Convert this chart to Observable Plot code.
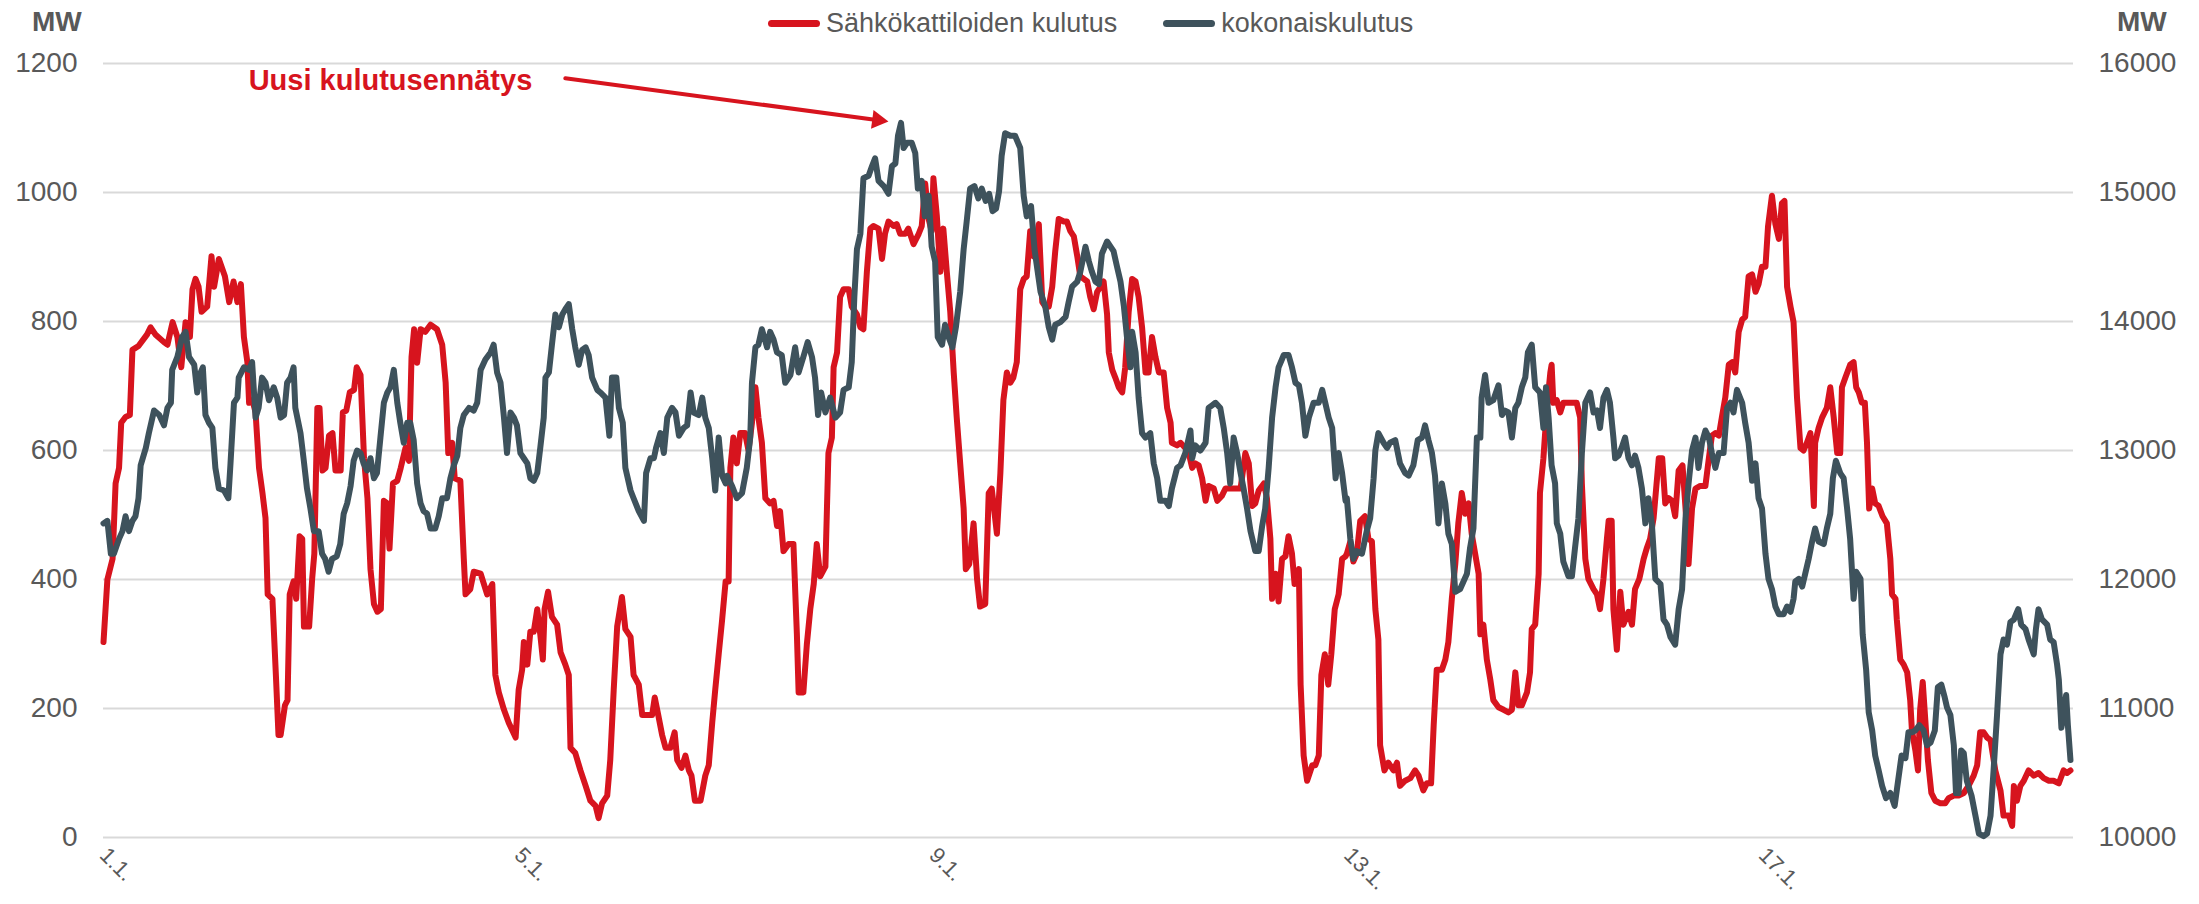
<!DOCTYPE html>
<html>
<head>
<meta charset="utf-8">
<script src="https://cdn.jsdelivr.net/npm/d3@7"></script>
<script src="https://cdn.jsdelivr.net/npm/@observablehq/plot@0.6"></script>
<style>
  html, body { margin: 0; padding: 0; background: #ffffff; }
  #wrap { position: relative; width: 2199px; height: 904px; font-family: "Liberation Sans", Arial, sans-serif; }
  .unit { position: absolute; top: 8px; font-size: 28px; font-weight: bold; line-height: 1; color: #595959; }
  #legend { position: absolute; top: 10px; left: 768px; display: flex; align-items: center; font-size: 27px; line-height: 1; color: #595959; }
  .item { display: flex; align-items: center; margin-right: 46px; }
  .swatch { width: 52px; height: 7px; border-radius: 3.5px; margin-right: 6px; }
  #chart { position: absolute; left: 0; top: 0; }
</style>
</head>
<body>
<div id="wrap">
  <div class="unit" style="left:32px">MW</div>
  <div class="unit" style="left:2117px">MW</div>
  <div id="legend"></div>
  <div id="chart"></div>
</div>
<script>
// ---- data (hours since 1.1. 00:00, MW) ----
const seriesNames = ["Sähkökattiloiden kulutus", "kokonaiskulutus"];
const seriesColors = ["#d7141e", "#3e525c"];
const leftTicks = [0, 200, 400, 600, 800, 1000, 1200];
const rightTicks = [10000, 11000, 12000, 13000, 14000, 15000, 16000];
const dateTicks = ["1.1.", "5.1.", "9.1.", "13.1.", "17.1."];
const annotationText = "Uusi kulutusennätys";

// Sähkökattiloiden kulutus, MW (left axis)
const boilerMW = [
[0,303],[0.9,400],[2.1,432],[2.8,549],[3.6,573],[4.1,643],[5.1,652],[6.1,655],[6.7,756],[8.1,762],[10.1,780],[10.9,791],[12,780],[14,768],[14.8,764],[16,799],[17.1,776],[18,729],[19,799],[20,776],[20.6,850],[21.3,866],[22,854],[22.7,815],[24,823],[25,901],[25.6,854],[26.7,897],[28.1,870],[29.1,830],[30.1,862],[31,830],[31.8,858],[32.5,776],[33.3,737],[33.7,674],[34.5,678],[35.2,659],[36,573],[36.8,534],[37.5,495],[38,377],[39.1,370],[39.9,252],[40.5,159],[41,159],[42,205],[42.6,213],[43.1,377],[44,397],[44.6,370],[45.4,467],[46,463],[46.4,327],[47.6,327],[48.3,401],[48.8,440],[49.5,666],[50,666],[50.7,569],[51.4,573],[52.2,623],[53,627],[53.7,569],[54.9,569],[55.4,659],[56.2,662],[57,690],[58,694],[58.6,729],[59.5,717],[60.3,588],[61.1,526],[61.8,416],[62.6,362],[63.4,350],[64.2,354],[64.9,522],[65.7,518],[66.2,448],[67,549],[68,553],[68.8,573],[69.9,604],[70.7,584],[71.3,745],[71.9,788],
[72.6,736],[73.4,788],[74.5,784],[75.7,795],[77.2,788],[78.4,764],[79.2,705],[79.8,596],[80.7,612],[81.3,557],[82.6,553],[83.4,432],[83.8,377],[84.9,385],[85.7,412],[87.3,409],[88.8,377],[90,393],[90.7,252],[91.5,225],[92.7,198],[93.8,178],[95.4,155],[96.1,229],[96.9,260],[97.3,303],[98.1,268],[98.8,319],[99.6,319],[100.4,354],[101.1,315],[101.7,276],[102.1,354],[102.9,381],[103.8,342],[105,330],[105.8,287],[106.9,268],[107.7,252],[108.1,139],[109.2,131],[110.4,104],[111.6,80],[112.7,57],[113.9,49],[114.6,30],[115.4,53],[116.6,65],[117.3,120],[118.1,229],[118.9,327],[120,373],[120.8,323],[122,311],[122.7,252],[123.9,237],[124.7,190],[125.8,190],[127,190],[127.6,217],[128.4,190],[129.3,159],[130.1,139],[131.2,139],[132.2,163],[132.8,120],[133.8,108],[134.7,127],[135.5,104],[136.1,96],[136.9,57],[138.2,57],[139.3,96],[140.1,112],[140.9,178],[141.6,229],[142.4,284],[143.2,338],[144,397],
[144.7,397],[145.1,573],[145.8,620],[146.6,580],[147.4,627],[148.5,627],[149.3,600],[150.1,643],[150.9,698],[151.6,651],[152.4,612],[153.2,526],[154.3,518],[155.1,522],[155.9,483],[156.6,506],[157.4,444],[158.6,455],[159.7,455],[160.5,315],[160.9,225],[162,225],[162.8,299],[163.6,354],[164.4,393],[165.1,455],[165.9,405],[167.1,420],[167.8,596],[168.6,620],[169,729],[169.8,752],[170.5,838],[171.3,850],[172.5,850],[173.2,823],[174.4,811],[175.2,791],[175.9,788],[176.7,877],[177.5,944],[178.2,948],[179.4,944],[180.2,897],[180.9,936],[181.7,955],[182.9,948],[183.6,951],[184.4,936],[185.6,936],[186.3,944],[187.5,920],[188.7,936],[189.4,948],[190.2,1014],[191,959],[191.7,940],[192.1,1022],[192.9,963],[193.7,877],[194.4,944],[195.2,877],[196,815],[196.8,721],[197.5,651],[198.3,580],[199.1,510],[199.6,416],[200.4,424],[201.4,487],[202.2,401],[202.9,358],[204.1,362],[204.9,534],[205.6,541],[206.8,471],[207.6,565],[208.3,678],[209.1,721],[209.9,705],[210.6,713],[211.4,737],[212.2,850],[213,866],[213.7,870],[214.5,940],[215.3,901],
[216.5,951],[217.3,830],[218,823],[218.8,823],[219.6,854],[220.3,909],[221.1,959],[222.3,955],[223,955],[223.8,940],[224.6,932],[225.4,901],[226.1,870],[226.9,866],[227.7,862],[228.4,838],[229.2,819],[230,846],[230.8,854],[231.5,862],[232.3,811],[232.7,752],[233.5,725],[234.2,713],[235,698],[235.8,690],[236.5,729],[237.3,815],[238.1,866],[238.9,862],[239.6,838],[240.4,791],[241.2,721],[241.9,721],[242.7,776],[243.5,745],[244.3,721],[245.4,721],[246.2,666],[247,643],[247.3,612],[248.5,608],[249.3,612],[250.4,604],[251.2,596],[252,573],[252.7,580],[253.5,577],[254.3,557],[255.1,522],[255.8,545],[257,541],[257.8,522],[258.9,530],[259.7,541],[260.9,541],[262,541],[263.2,541],[264.3,596],[265.1,580],[265.9,514],[266.6,518],[267.4,538],[268.6,549],[269.3,526],[270.1,463],[270.5,370],[271.3,409],[272,366],[272.8,432],[273.6,436],[274.3,467],[275.1,440],[275.7,393],[276.7,416],[277.1,237],[277.8,127],[278.6,88],[279.8,112],[280.5,112],[281.3,127],[281.9,252],[282.7,284],[283.5,237],[284.2,284],[285,354],[285.9,377],[286.7,432],[287.5,436],
[287.8,440],[288.6,459],[289.3,428],[290.1,440],[290.9,491],[292,498],[292.8,463],[293.6,459],[294.4,354],[295.1,307],[295.5,143],[296.5,104],[297.4,116],[298.6,104],[299.4,116],[300.1,80],[301.3,88],[302.5,92],[303.6,104],[304.4,96],[305.5,73],[306.3,84],[307.3,84],[307.9,174],[308.6,260],[309.8,260],[310.6,276],[311.3,303],[312.1,370],[312.9,424],[313.6,487],[314.4,534],[315.2,502],[316,518],[316.7,471],[317.5,440],[318.3,409],[318.7,315],[319.4,330],[320.2,276],[321,245],[321.7,213],[322.9,202],[324.1,198],[325.2,194],[326,198],[326.8,256],[327.5,205],[328.3,205],[329.5,225],[330.2,256],[330.6,323],[331.4,330],[332.2,409],[332.5,534],[333.3,588],[334.1,666],[334.9,721],[335.2,733],[335.6,674],[336.4,678],[337.2,659],[337.9,674],[339.1,674],[340.3,674],[341,674],[341.8,651],[342.2,549],[343,432],[343.7,401],[344.9,385],[345.7,377],[346.4,354],[347.2,401],[348,463],[348.4,491],[349.1,491],[349.5,354],[350.3,291],[351.1,381],[351.8,330],[353,350],[353.8,330],[354.5,385],[355.5,401],[356.5,432],[357.2,448],[358,463],[358.8,495],
[360,588],[360.8,588],[361.5,518],[362.3,526],[363.1,522],[363.8,498],[364.6,569],[365.5,577],[366.2,510],[366.9,424],[367.7,510],[368.5,541],[369.6,545],[370.8,545],[371.6,588],[372.3,623],[373.1,627],[373.9,623],[374.6,651],[375.4,682],[376.2,733],[377,737],[377.7,721],[378.5,784],[379.3,803],[380,807],[380.8,870],[381.6,873],[382.4,846],[383.1,858],[383.9,885],[384.7,885],[385.3,948],[386.2,995],[387,951],[387.8,928],[388.5,983],[389.1,987],[389.7,854],[390.5,823],[391.2,799],[392,682],[392.8,604],[393.5,600],[394.3,612],[395.1,627],[395.9,514],[396.2,612],[397,635],[397.8,651],[398.9,666],[399.7,698],[400.5,651],[401.3,596],[402,596],[402.4,698],[403.2,713],[404.3,733],[405.1,737],[405.7,698],[406.3,690],[407,674],[407.7,674],[408.2,612],[408.7,510],[409.4,541],[410.1,518],[410.9,514],[411.8,498],[412.8,487],[413.6,432],[414,377],[414.8,370],[415.1,338],[415.9,276],[416.7,268],[417.5,256],[418.2,213],[418.6,166],[419.4,135],[420,104],[420.5,198],[421.1,241],[421.7,182],[422.3,120],[423.1,69],[424,57],[425.2,53],[426.3,53],[427.1,61],[428.3,65],[429.4,65],[430.6,69],[431.7,80],[432.9,96],[433.7,112],[434.4,163],[435.2,163],[436,155],[436.8,151],[437.9,104],[439.1,73],[439.8,34],[441,34],[441.8,18],[442.2,80],[442.9,57],[443.7,80],[444.5,88],[445.6,104],[446.8,96],[447.9,100],[449.1,92],[450.3,88],[451.4,88],[452.6,84],[453.7,104],[454.5,100],[455.3,104]
];

// kokonaiskulutus, MW (right axis)
const totalMW = [
[0,12435],[0.9,12455],[1.7,12200],[2.4,12200],[3.6,12315],[4.4,12375],[5.1,12490],[5.9,12375],[6.7,12455],[7.4,12490],[8.1,12630],[8.6,12885],[9.8,13020],[10.5,13135],[11.7,13310],[12.9,13275],[14,13195],[14.8,13330],[15.6,13370],[15.9,13625],[17.1,13725],[18.2,13880],[19,13920],[19.8,13725],[21,13665],[21.7,13450],[22.5,13605],[23,13645],[23.6,13275],[24.4,13215],[25.2,13175],[25.9,12865],[26.7,12705],[27.9,12690],[28.9,12630],[29.4,12900],[30.2,13370],[31,13410],[31.3,13565],[32.5,13645],[33.7,13625],[34.4,13685],[35.2,13255],[35.9,13330],[36.7,13565],[37.5,13525],[38.3,13390],[39.4,13490],[40.2,13410],[41,13255],[41.8,13275],[42.5,13525],[43.3,13565],[44,13645],[44.4,13330],[45.6,13135],[46.3,12940],[47.1,12705],[47.9,12550],[48.7,12375],[49.8,12375],[50.6,12200],[51.3,12160],[52.1,12060],[52.9,12160],[54,12180],[54.8,12275],[55.6,12510],[56.4,12590],[57.2,12725],[57.9,12920],[58.7,13000],[59.5,12980],[60.2,12900],[61,12845],[61.8,12940],[62.6,12785],[63.3,12825],[64.1,13100],[64.9,13370],[65.7,13450],[66.4,13490],[67.2,13625],[68,13370],[68.7,13215],[69.5,13060],[70.3,13215],[71,13215],[71.8,13080],
[72.6,12745],[73.4,12590],[74.1,12530],[74.9,12510],[75.7,12395],[76.8,12395],[77.6,12490],[78.4,12630],[79.5,12630],[80.3,12785],[81.1,12885],[81.9,12960],[82.6,13175],[83.4,13275],[84.6,13330],[85.7,13310],[86.5,13370],[87.3,13625],[88.4,13705],[89.6,13760],[90.3,13820],[91.1,13605],[91.9,13525],[92.7,13255],[93.4,12980],[94.2,13295],[95,13255],[95.7,13195],[96.5,12980],[97.3,12940],[98.1,12900],[98.8,12785],[99.6,12765],[100.4,12825],[101.1,13020],[101.9,13255],[102.3,13565],[103.1,13605],[103.8,13820],[104.6,14055],[105.4,13955],[106.2,14055],[106.9,14095],[107.7,14135],[108.5,13940],[109.2,13800],[110,13665],[110.8,13780],[111.6,13800],[112.3,13740],[113.1,13565],[114.3,13470],[115,13450],[116.2,13410],[117.1,13115],[117.7,13565],[118.7,13565],[119.3,13330],[120.2,13215],[120.8,12865],[122,12690],[122.7,12630],[123.9,12530],[125.1,12455],[125.6,12825],[126.6,12940],[127.4,12940],[127.9,13020],[128.9,13135],[129.7,12980],[130.5,13255],[131.6,13330],[132.4,13295],[133.2,13115],[134.3,13175],[135.1,13195],[135.9,13450],[136.6,13295],[137.8,13275],[138.6,13410],[139.3,13255],[140.1,13175],[140.9,12940],[141.6,12690],[142.4,13100],[143.2,12805],[144,12745],
[144.3,12805],[145.5,12725],[146.6,12630],[147.8,12670],[148.9,12865],[149.7,13100],[150.1,13525],[150.9,13800],[151.6,13820],[152.4,13940],[153.6,13800],[154.3,13920],[155.1,13860],[155.9,13760],[157,13740],[157.8,13525],[159,13585],[160.1,13800],[160.9,13605],[162,13725],[163,13840],[164,13725],[164.7,13565],[165.4,13275],[166.1,13450],[167.1,13295],[168.2,13410],[169.4,13255],[170.5,13295],[171.3,13470],[172.5,13490],[173.2,13685],[173.8,14190],[174.4,14560],[175.2,14680],[175.9,15110],[177.1,15130],[177.9,15205],[178.6,15265],[179.4,15090],[180.6,15050],[181.7,14990],[182.5,15205],[183.3,15225],[183.9,15440],[184.6,15540],[185.2,15345],[186,15385],[187.1,15385],[187.9,15305],[188.5,15030],[189.4,15090],[190.1,14815],[191,14975],[191.7,14580],[192.5,14465],[193.1,13880],[194.1,13820],[194.8,13975],[195.6,13880],[196.5,13800],[197.3,13955],[198.3,14230],[199.1,14560],[199.8,14775],[200.6,15030],[201.6,15050],[202.5,14955],[203.3,15030],[204.2,14935],[205,14990],[205.8,14855],[206.6,14875],[207.3,15010],[207.9,15285],[208.7,15460],[209.9,15440],[211,15440],[212.2,15345],[213,14975],[213.7,14815],[214.7,14895],[215.5,14560],
[216.9,14230],[218,14115],[218.8,13955],[219.6,13860],[220.3,13975],[221.5,13995],[222.7,14035],[223.4,14150],[224.2,14270],[225.4,14310],[226.1,14385],[227.3,14580],[228.1,14465],[228.8,14385],[229.6,14310],[230.4,14290],[231.1,14525],[232.3,14620],[233.1,14580],[233.8,14545],[234.6,14425],[235.4,14310],[236.2,14115],[236.9,13880],[237.7,13645],[238.1,13920],[238.9,13760],[239.6,13410],[240.4,13135],[241.2,13100],[242.3,13135],[243.1,12900],[243.9,12785],[244.6,12610],[245.8,12610],[246.6,12570],[247.3,12705],[248.5,12865],[249.3,12885],[250.4,12980],[251.6,13155],[252,12940],[252.7,13040],[253.9,13000],[255.1,13060],[255.8,13330],[256.6,13350],[257.4,13370],[258.5,13330],[259.3,13175],[260.1,12980],[260.8,12745],[261.6,13100],[262.4,12980],[263.2,12825],[263.9,12705],[264.7,12550],[265.5,12375],[266.6,12220],[267.4,12220],[268.2,12415],[268.9,12550],[269.7,12865],[270.5,13255],[271.3,13490],[272,13645],[273.2,13740],[274.3,13740],[275.1,13645],[275.9,13525],[276.7,13505],[277.4,13370],[278.2,13115],[279,13255],[280.1,13370],[281.3,13370],[282.1,13470],[282.8,13370],[283.6,13255],[284.4,13175],[285.2,12785],[285.9,12980],[286.7,12825],[287.5,12610],
[287.8,12630],[288.6,12315],[289.3,12160],[290.1,12220],[291.3,12200],[292.4,12375],[293.2,12475],[294,12785],[294.4,13000],[295.1,13135],[296.3,13060],[297.1,13020],[297.8,13060],[299,13080],[300.1,12900],[301.3,12825],[302.1,12805],[303.2,12885],[304.2,13080],[305.2,13100],[305.9,13195],[306.7,13080],[307.5,12980],[308.2,12805],[309,12435],[309.8,12745],[310.6,12590],[311.3,12355],[312.1,12275],[312.9,11905],[314,11925],[314.8,11985],[315.6,12045],[316.3,12240],[317.1,12395],[317.9,13100],[318.7,13100],[319,13410],[319.8,13585],[320.6,13370],[321.7,13390],[322.9,13505],[323.7,13275],[324.4,13310],[325.2,13295],[326,13100],[326.8,13330],[327.5,13370],[328.3,13490],[329.1,13565],[329.7,13760],[330.6,13820],[331.4,13490],[332.5,13450],[333.3,13175],[333.9,13490],[334.5,13255],[335.2,12885],[336,12745],[336.4,12435],[337.2,12355],[337.9,12140],[339.1,12025],[339.9,12025],[340.6,12240],[341.4,12475],[342.2,12980],[343,13370],[344.1,13450],[344.9,13295],[345.7,13310],[346.4,13175],[347.2,13410],[348,13470],[348.7,13370],[349.5,13100],[349.9,12940],[350.7,12960],[351.4,13020],[352.2,13100],[353,12940],[353.8,12885],[354.5,12960],[355.3,12865],[356.1,12705],[356.9,12435],[357.6,12630],[358.4,12435],[359.2,12005],
[360.4,11965],[361.1,11690],[361.9,11650],[362.7,11555],[363.8,11495],[364.6,11770],[365.4,11925],[366.2,12475],[366.9,12745],[367.7,13000],[368.5,13100],[369.2,12865],[370,13060],[370.8,13155],[371.6,13100],[372.3,12980],[373.1,12865],[373.9,12980],[375,12980],[375.8,13330],[376.6,13370],[377.3,13295],[378.1,13470],[379.3,13370],[380,13215],[380.8,13060],[381.6,12765],[382.4,12900],[383.1,12630],[383.9,12550],[384.7,12200],[385.4,12005],[386.2,11925],[387,11790],[387.8,11730],[388.9,11730],[389.7,11790],[390.5,11750],[391.2,11850],[391.6,11985],[392.4,12005],[393.2,11945],[393.9,12045],[394.7,12160],[395.5,12295],[396.2,12395],[397,12295],[398.2,12275],[398.9,12395],[399.7,12510],[400.3,12785],[401,12920],[402,12825],[402.8,12785],[403.6,12550],[404.3,12315],[405.1,11850],[405.7,12060],[406.7,12005],[407.2,11575],[408,11300],[408.6,10970],[409.4,10830],[410.1,10635],[410.9,10520],[411.7,10400],[412.6,10305],[413.6,10345],[414.6,10245],[415.4,10440],[416.2,10635],[417.1,10615],[417.8,10815],[418.6,10815],[419.4,10830],[420.3,10870],[421.3,10830],[422.1,10715],[422.9,10735],[423.9,10830],[424.6,11165],[425.4,11185],[426.2,11085],[426.7,11010],[427.5,10950],[428.3,10715],[428.8,10345],[429.4,10345],[430,10675],[430.6,10655],[431.3,10440],[432.4,10325],[433.3,10170],[434.1,10030],[435.2,10010],[436,10030],[436.8,10170],[437.5,10520],[438.3,10950],[439.1,11420],[439.8,11535],[440.6,11495],[441.4,11670],[442.2,11690],[443.2,11770],[443.9,11650],[444.9,11615],[445.6,11535],[446.8,11420],[447.3,11615],[447.9,11770],[448.7,11690],[449.9,11650],[450.6,11535],[451.4,11515],[452.2,11340],[452.6,11225],[453.2,10850],[453.7,10950],[454.3,11105],[454.7,10870],[455.3,10600]
];

// annotation anchor points (hours, MW on left axis)
const annotationLabel = [[33.6, 1174]];
const annotationArrow = [[106.9, 1177, 181.7, 1110]];

// ---- helpers ----
const t0 = Date.UTC(2024, 0, 1);
const toDate = h => new Date(t0 + h * 3600e3);
const parseTick = s => { const [d, m] = s.split("."); return new Date(Date.UTC(2024, +m - 1, +d)); };
// right axis maps linearly to left: 10000..16000 <-> 0..1200
const rightToLeft = v => (v - rightTicks[0]) * (leftTicks[leftTicks.length - 1] / (rightTicks[rightTicks.length - 1] - rightTicks[0]));

// ---- legend ----
const legend = document.getElementById("legend");
seriesNames.forEach((n, i) => {
  const it = document.createElement("div");
  it.className = "item";
  const sw = document.createElement("div");
  sw.className = "swatch";
  sw.style.background = seriesColors[i];
  const tx = document.createElement("span");
  tx.textContent = n;
  it.appendChild(sw); it.appendChild(tx);
  legend.appendChild(it);
});

// ---- chart ----
const chart = Plot.plot({
  width: 2199,
  height: 904,
  marginLeft: 103,
  marginRight: 126,
  marginTop: 63,
  marginBottom: 67,
  style: { fontFamily: "'Liberation Sans', Arial, sans-serif", color: "#595959", background: "transparent" },
  x: { type: "utc", domain: [toDate(0), toDate(19 * 24)] },
  y: { domain: [leftTicks[0], leftTicks[leftTicks.length - 1]] },
  marks: [
    Plot.gridY(leftTicks, { stroke: "#d9d9d9", strokeOpacity: 1, strokeWidth: 2 }),
    Plot.axisY(leftTicks, { tickSize: 0, tickPadding: 26, fontSize: 28, label: null, tickFormat: d => String(d) }),
    Plot.axisY(rightTicks.map(rightToLeft), {
      anchor: "right", tickSize: 0, tickPadding: 25, fontSize: 28, label: null,
      tickFormat: (d, i) => String(rightTicks[i])
    }),
    Plot.axisX(dateTicks.map(parseTick), {
      tickSize: 0, tickPadding: 14, fontSize: 22, tickRotate: 45, label: null,
      tickFormat: (d, i) => dateTicks[i]
    }),
    Plot.line(boilerMW, {
      x: d => toDate(d[0]), y: d => d[1],
      stroke: seriesColors[0], strokeWidth: 6, strokeLinejoin: "round", strokeLinecap: "round"
    }),
    Plot.line(totalMW, {
      x: d => toDate(d[0]), y: d => rightToLeft(d[1]),
      stroke: seriesColors[1], strokeWidth: 6, strokeLinejoin: "round", strokeLinecap: "round"
    }),
    Plot.text(annotationLabel, {
      x: d => toDate(d[0]), y: d => d[1], text: () => annotationText,
      textAnchor: "start", lineAnchor: "middle", fontSize: 29, fontWeight: "bold", fill: seriesColors[0]
    }),
    Plot.arrow(annotationArrow, {
      x1: d => toDate(d[0]), y1: d => d[1], x2: d => toDate(d[2]), y2: d => d[3],
      stroke: seriesColors[0], strokeWidth: 4, headLength: 0, insetEnd: 10, bend: 0
    }),
    Plot.dot(annotationArrow, {
      x: d => toDate(d[2]), y: d => d[3], symbol: "triangle", r: 7,
      fill: seriesColors[0], stroke: "none", rotate: 97.6, dx: -10.8, dy: -1.4
    })
  ]
});
document.getElementById("chart").appendChild(chart);
</script>
</body>
</html>
